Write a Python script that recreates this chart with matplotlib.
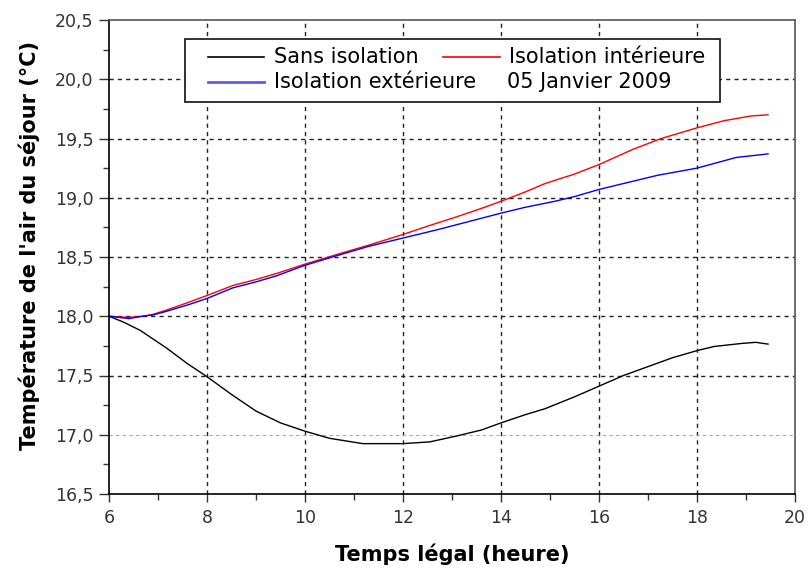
import matplotlib
matplotlib.use("Agg")
import matplotlib.pyplot as plt
import matplotlib.ticker as mtick
from matplotlib.patches import Rectangle
from matplotlib.lines import Line2D

# ---------------------------------------------------------------------------
# Data
# ---------------------------------------------------------------------------

t_sans = [6.0, 6.3, 6.64, 7.18, 7.6, 8.0, 8.5, 9.0, 9.5, 10.0, 10.5, 11.18,
          12.0, 12.55, 13.1, 13.6, 14.0, 14.5, 14.9, 15.5, 16.0, 16.5, 16.9,
          17.5, 18.0, 18.35, 18.9, 19.2, 19.45]
T_sans = [18.0, 17.95, 17.88, 17.73, 17.6, 17.49, 17.34, 17.20, 17.10, 17.03,
          16.97, 16.925, 16.925, 16.94, 16.99, 17.04, 17.10, 17.17, 17.22,
          17.32, 17.41, 17.50, 17.56, 17.65, 17.71, 17.745, 17.77, 17.78, 17.765]

t_int = [6.0, 6.41, 6.68, 6.89, 7.16, 7.64, 8.0, 8.53, 9.0, 9.41, 10.0, 10.64,
         11.3, 12.0, 12.5, 13.1, 13.6, 14.0, 14.5, 14.9, 15.5, 16.0, 16.7,
         17.27, 18.0, 18.55, 19.1, 19.45]
T_int = [18.0, 17.99, 18.0, 18.015, 18.05, 18.12, 18.175, 18.26, 18.31, 18.36,
         18.44, 18.52, 18.60, 18.69, 18.76, 18.84, 18.91, 18.97, 19.05, 19.12,
         19.20, 19.28, 19.41, 19.50, 19.59, 19.65, 19.69, 19.70]

t_ext = [6.0, 6.41, 6.68, 6.89, 7.16, 7.64, 8.0, 8.53, 9.0, 9.41, 10.0, 10.64,
         11.3, 12.0, 12.7, 13.35, 14.0, 14.5, 15.1, 15.5, 16.0, 16.6, 17.2,
         18.0, 18.8, 19.45]
T_ext = [18.0, 17.98, 18.0, 18.01, 18.04, 18.10, 18.15, 18.24, 18.29, 18.34,
         18.43, 18.51, 18.59, 18.66, 18.73, 18.80, 18.87, 18.92, 18.97, 19.01,
         19.07, 19.13, 19.19, 19.25, 19.34, 19.37]

label_sans = "Sans isolation"
label_int = "Isolation intérieure"
label_ext = "Isolation extérieure"
date_text = "05 Janvier 2009"

W, H = 810, 570


def px(x, y):
    """Pixel position (from top-left) -> figure fraction."""
    return x / W, 1 - y / H


# ---------------------------------------------------------------------------
# Figure
# ---------------------------------------------------------------------------

plt.rcParams["font.family"] = ["DejaVu Sans"]

fig = plt.figure(figsize=(8.1, 5.7), dpi=100, facecolor="white")
ax = fig.add_axes([109 / W, 76 / H, 686 / W, 474 / H])

ax.plot(t_sans, T_sans, color="black", linewidth=1.0)
ax.plot(t_int, T_int, color="red", linewidth=1.0)
ax.plot(t_ext, T_ext, color="blue", linewidth=1.0)

ax.set_xlim(6, 20)
ax.set_ylim(16.5, 20.5)
ax.xaxis.set_major_locator(mtick.MultipleLocator(2))
ax.xaxis.set_minor_locator(mtick.MultipleLocator(1))
ax.yaxis.set_major_locator(mtick.MultipleLocator(0.5))
ax.yaxis.set_minor_locator(mtick.MultipleLocator(0.25))
ax.yaxis.set_major_formatter(mtick.FuncFormatter(lambda v, p: f"{v:.1f}".replace(".", ",")))

ax.tick_params(which="major", direction="out", labelsize=12.5, colors="#333333",
               width=1.0)
ax.tick_params(axis="x", which="major", length=6, pad=5)
ax.tick_params(axis="y", which="major", length=7, pad=4)
ax.tick_params(which="minor", direction="out", length=4, width=1.0, color="#333333")

for side in ["left", "bottom"]:
    ax.spines[side].set_color("black")
    ax.spines[side].set_linewidth(1.2)
for side in ["top", "right"]:
    ax.spines[side].set_color("#555555")
    ax.spines[side].set_linewidth(1.2)

# grid: black dashed, except the 17,0 line which is light grey
for xv in range(8, 20, 2):
    ax.axvline(xv, color="#222222", linestyle=(0, (3, 3)), linewidth=1.0, zorder=0)
for yv in [17.5, 18.0, 18.5, 19.0, 19.5, 20.0]:
    ax.axhline(yv, color="#222222", linestyle=(0, (3, 3)), linewidth=1.0, zorder=0)
ax.axhline(17.0, color="#aaaaaa", linestyle=(0, (3, 3)), linewidth=0.8, zorder=0)

ax.set_xlabel("Temps légal (heure)", fontsize=15, fontweight="bold", labelpad=12)
ax.set_ylabel("Température de l'air du séjour (°C)", fontsize=15,
              fontweight="bold")
ax.yaxis.set_label_coords(-0.10, 0.525)

# ---- legend box, laid out by hand like the original ----
x0, y0 = px(185, 102)
x1, y1 = px(720, 39)
fig.patches.append(Rectangle((x0, y0), x1 - x0, y1 - y0, transform=fig.transFigure,
                             facecolor="white", edgecolor="#222222",
                             linewidth=1.3, zorder=5))

entries = [
    (208, 264, 274, 57, "black", 1.2, label_sans),
    (208, 264, 274, 82, "#5a5aff", 2.0, label_ext),
    (443, 500, 509, 57, "red", 1.2, label_int),
]
for hx0, hx1, tx, ty, col, lw, lab in entries:
    a, b = px(hx0, ty)
    c, _ = px(hx1, ty)
    fig.lines.append(Line2D([a, c], [b, b], transform=fig.transFigure,
                            color=col, linewidth=lw, zorder=6))
    fig.text(*px(tx, ty), lab, fontsize=15, va="center", ha="left", zorder=6)
fig.text(*px(507, 82), date_text, fontsize=15, va="center", ha="left", zorder=6)

fig.savefig("out.png", dpi=100, facecolor="white")
